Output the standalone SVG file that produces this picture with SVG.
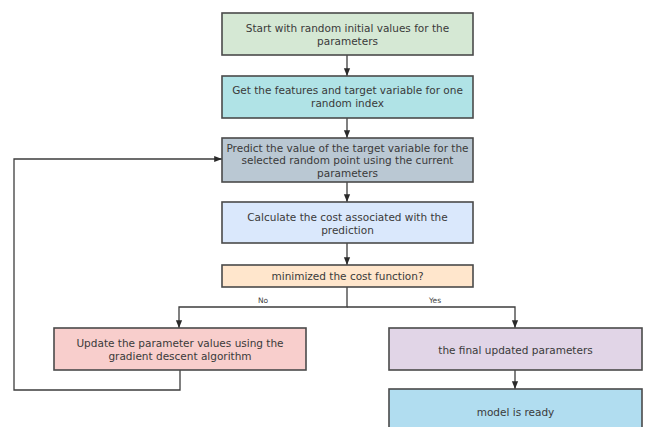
<svg xmlns="http://www.w3.org/2000/svg" width="646" height="427" viewBox="0 0 646 427">
<defs>
<style>
.box{stroke:#4a4a4a;stroke-width:1.6}
.t{font-family:"DejaVu Sans",Verdana,sans-serif;font-size:10.5px;fill:#3a3a3a;text-anchor:middle}
.lbl{font-family:"DejaVu Sans",Verdana,sans-serif;font-size:7.5px;fill:#444;text-anchor:middle}
.c{fill:none;stroke:#3d3d3d;stroke-width:1.3}
</style>
<marker id="ah" viewBox="0 0 10 10" refX="10" refY="5" markerWidth="6" markerHeight="6" orient="auto">
<path d="M0,1 L10,5 L0,9 Z" fill="#2a2a2a"/>
</marker>
</defs>
<rect width="646" height="427" fill="#ffffff"/>
<g id="connectors">
<path class="c" d="M347,55 V76" marker-end="url(#ah)"/>
<path class="c" d="M347,118 V138" marker-end="url(#ah)"/>
<path class="c" d="M347,182 V202" marker-end="url(#ah)"/>
<path class="c" d="M347,243 V265" marker-end="url(#ah)"/>
<path class="c" d="M347,287 V307 H179 V328" marker-end="url(#ah)"/>
<path class="c" d="M347,307 H515 V328" marker-end="url(#ah)"/>
<path class="c" d="M515,370 V389" marker-end="url(#ah)"/>
<path class="c" d="M180,370 V390 H14 V159 H222" marker-end="url(#ah)"/>
<text class="lbl" x="263" y="303">No</text>
<text class="lbl" x="435" y="303">Yes</text>
</g>
<g id="n1">
<rect class="box" x="222" y="13" width="251" height="42" fill="#d5e8d4"/>
<text class="t" x="347.5" y="31.5">Start with random initial values for the</text>
<text class="t" x="347.5" y="45">parameters</text>
</g>
<g id="n2">
<rect class="box" x="222" y="76" width="251" height="42" fill="#b0e3e6"/>
<text class="t" x="347.5" y="94">Get the features and target variable for one</text>
<text class="t" x="347.5" y="107">random index</text>
</g>
<g id="n3">
<rect class="box" x="222" y="138" width="251" height="44" fill="#bac8d3"/>
<text class="t" x="347.5" y="151.5">Predict the value of the target variable for the</text>
<text class="t" x="347.5" y="164">selected random point using the current</text>
<text class="t" x="347.5" y="176.5">parameters</text>
</g>
<g id="n4">
<rect class="box" x="222" y="202" width="251" height="41" fill="#dae8fc"/>
<text class="t" x="347.5" y="221">Calculate the cost associated with the</text>
<text class="t" x="347.5" y="234">prediction</text>
</g>
<g id="n5">
<rect class="box" x="222" y="265" width="251" height="22" fill="#ffe6cc"/>
<text class="t" x="347.5" y="279.5">minimized the cost function?</text>
</g>
<g id="n6">
<rect class="box" x="54" y="328" width="252" height="42" fill="#f8cecc"/>
<text class="t" x="180" y="346.5">Update the parameter values using the</text>
<text class="t" x="180" y="359.5">gradient descent algorithm</text>
</g>
<g id="n7">
<rect class="box" x="389" y="328" width="253" height="42" fill="#e1d5e7"/>
<text class="t" x="515.5" y="353.5">the final updated parameters</text>
</g>
<g id="n8">
<rect class="box" x="389" y="389" width="253" height="44" fill="#b1ddf0"/>
<text class="t" x="515.5" y="415.5">model is ready</text>
</g>
</svg>
